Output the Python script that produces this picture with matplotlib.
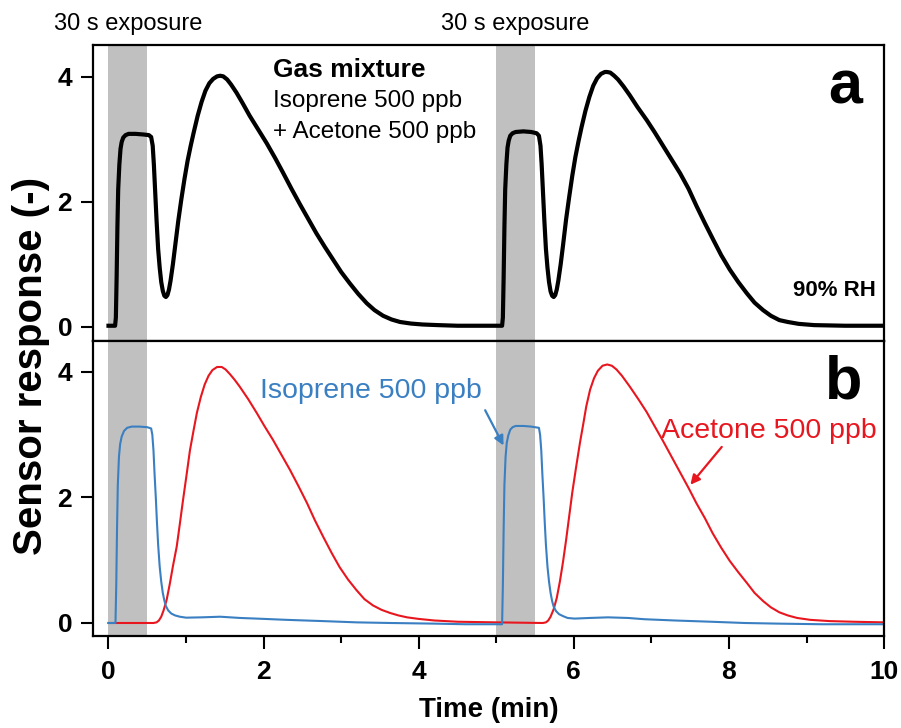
import matplotlib
matplotlib.use("Agg")
import matplotlib.pyplot as plt
import matplotlib.transforms as mtransforms

plt.rcParams['font.family'] = ['Liberation Sans', 'DejaVu Sans']

# Panel a: gas mixture response
t_mix = [0.00, 0.085, 0.095, 0.105, 0.115, 0.125, 0.14, 0.155, 0.17, 0.19, 0.22, 0.26, 0.35,
         0.45, 0.52, 0.55, 0.57, 0.585, 0.60, 0.62, 0.64, 0.66, 0.68, 0.70, 0.72, 0.74, 0.76,
         0.78, 0.80, 0.83, 0.86, 0.90, 0.94, 0.98, 1.02, 1.06, 1.10, 1.15, 1.20, 1.25, 1.30,
         1.35, 1.40, 1.44, 1.48, 1.53, 1.58, 1.65, 1.73, 1.82, 1.93, 2.04, 2.15, 2.25, 2.36,
         2.47, 2.58, 2.68, 2.79, 2.90, 3.00, 3.11, 3.22, 3.33, 3.43, 3.54, 3.65, 3.76, 3.90,
         4.05, 4.25, 4.50, 5.00, 5.075,
         5.085, 5.095, 5.105, 5.115, 5.13, 5.145, 5.16, 5.18, 5.21, 5.25, 5.35, 5.45, 5.52,
         5.55, 5.57, 5.585, 5.60, 5.62, 5.64, 5.66, 5.68, 5.70, 5.72, 5.74, 5.76, 5.78, 5.80,
         5.83, 5.86, 5.90, 5.94, 5.98, 6.02, 6.06, 6.10, 6.15, 6.20, 6.25, 6.30, 6.35, 6.40,
         6.43, 6.47, 6.52, 6.57, 6.64, 6.72, 6.82, 6.94, 7.04, 7.15, 7.26, 7.37, 7.48, 7.58,
         7.69, 7.80, 7.90, 8.01, 8.12, 8.23, 8.33, 8.44, 8.54, 8.65, 8.76, 8.90, 9.10, 9.50,
         10.0]
r_mix = [0.02, 0.02, 0.15, 0.80, 1.60, 2.20, 2.60, 2.85, 2.96, 3.03, 3.07, 3.09, 3.09,
         3.08, 3.07, 3.04, 2.90, 2.60, 2.20, 1.70, 1.25, 0.95, 0.72, 0.58, 0.50, 0.48, 0.51,
         0.60, 0.74, 1.00, 1.30, 1.70, 2.05, 2.37, 2.66, 2.90, 3.12, 3.38, 3.60, 3.78, 3.90,
         3.97, 4.01, 4.02, 4.01, 3.96, 3.88, 3.75, 3.58, 3.38, 3.16, 2.94, 2.70, 2.47, 2.21,
         1.96, 1.72, 1.50, 1.28, 1.07, 0.88, 0.70, 0.53, 0.38, 0.27, 0.18, 0.12, 0.08, 0.055,
         0.04, 0.03, 0.02, 0.02, 0.02,
         0.15, 0.80, 1.60, 2.20, 2.60, 2.87, 2.98, 3.06, 3.10, 3.12, 3.13, 3.12, 3.10,
         3.06, 2.90, 2.60, 2.20, 1.70, 1.25, 0.95, 0.72, 0.57, 0.50, 0.48, 0.51, 0.60, 0.74,
         1.00, 1.30, 1.72, 2.08, 2.42, 2.72, 2.97, 3.20, 3.46, 3.68, 3.86, 3.98, 4.05, 4.08,
         4.08, 4.07, 4.02, 3.96, 3.85, 3.71, 3.52, 3.31, 3.12, 2.90, 2.68, 2.46, 2.21, 1.94,
         1.66, 1.39, 1.15, 0.92, 0.72, 0.54, 0.39, 0.27, 0.18, 0.11, 0.08, 0.05, 0.03, 0.02,
         0.02]

# Panel b: isoprene alone
t_iso = [0.00, 0.09, 0.10, 0.11, 0.12, 0.135, 0.15, 0.17, 0.20, 0.24, 0.30, 0.40, 0.50, 0.55,
         0.565, 0.58, 0.595, 0.61, 0.625, 0.64, 0.66, 0.68, 0.70, 0.72, 0.74, 0.77, 0.81,
         0.86, 0.92, 1.00, 1.20, 1.44, 1.70, 1.91, 2.30, 2.77, 3.20, 3.63, 4.20, 4.60, 5.00,
         5.075,
         5.085, 5.095, 5.105, 5.12, 5.135, 5.155, 5.18, 5.21, 5.25, 5.35, 5.45, 5.55, 5.565,
         5.58, 5.595, 5.61, 5.625, 5.64, 5.66, 5.68, 5.70, 5.72, 5.74, 5.77, 5.81, 5.86, 5.92,
         6.01, 6.20, 6.44, 6.70, 6.91, 7.30, 7.77, 8.20, 8.63, 9.20, 9.60, 10.0]
r_iso = [0.00, 0.00, 0.60, 1.50, 2.20, 2.65, 2.85, 2.97, 3.06, 3.11, 3.13, 3.13, 3.12, 3.10,
         3.00, 2.75, 2.35, 2.00, 1.60, 1.25, 0.90, 0.66, 0.48, 0.36, 0.27, 0.20, 0.15,
         0.12, 0.10, 0.085, 0.09, 0.10, 0.08, 0.07, 0.05, 0.03, 0.01, 0.00, -0.01, -0.02, -0.02,
         -0.02,
         0.60, 1.50, 2.20, 2.65, 2.87, 2.99, 3.08, 3.12, 3.14, 3.14, 3.13, 3.11, 3.00,
         2.75, 2.35, 2.00, 1.60, 1.25, 0.90, 0.66, 0.48, 0.35, 0.26, 0.19, 0.14, 0.11, 0.08,
         0.07, 0.08, 0.09, 0.08, 0.06, 0.04, 0.02, 0.00, -0.01, -0.02, -0.02, -0.02]

# Panel b: acetone alone
t_ace = [0.00, 0.58, 0.62, 0.65, 0.68, 0.71, 0.75, 0.79, 0.83, 0.88, 0.92, 0.96, 1.01, 1.05,
         1.10, 1.14, 1.19, 1.24, 1.29, 1.34, 1.40, 1.46, 1.51, 1.57, 1.63, 1.69, 1.80, 1.91,
         2.01, 2.12, 2.23, 2.34, 2.45, 2.56, 2.66, 2.77, 2.88, 2.98, 3.09, 3.20, 3.30, 3.41,
         3.52, 3.63, 3.74, 3.85, 4.00, 4.20, 4.50, 5.00,
         5.60, 5.64, 5.67, 5.70, 5.74, 5.78, 5.82, 5.86, 5.90, 5.94, 5.98, 6.03, 6.08, 6.12,
         6.16, 6.21, 6.26, 6.31, 6.37, 6.43, 6.49, 6.55, 6.62, 6.72, 6.83, 6.94, 7.04, 7.15,
         7.26, 7.37, 7.48, 7.58, 7.69, 7.79, 7.90, 8.01, 8.12, 8.23, 8.33, 8.44, 8.54, 8.65,
         8.76, 8.88, 9.05, 9.30, 9.60, 10.0]
r_ace = [0.00, 0.00, 0.01, 0.04, 0.10, 0.20, 0.37, 0.62, 0.90, 1.22, 1.58, 1.95, 2.39, 2.75,
         3.09, 3.35, 3.60, 3.80, 3.94, 4.03, 4.08, 4.08, 4.04, 3.96, 3.87, 3.77, 3.57, 3.35,
         3.14, 2.92, 2.68, 2.44, 2.18, 1.91, 1.64, 1.37, 1.11, 0.89, 0.69, 0.52, 0.38, 0.28,
         0.21, 0.16, 0.12, 0.09, 0.065, 0.04, 0.02, 0.01,
         0.00, 0.01, 0.04, 0.10, 0.22, 0.40, 0.66, 0.97, 1.32, 1.70, 2.08, 2.49, 2.88, 3.16,
         3.45, 3.72, 3.90, 4.02, 4.10, 4.12, 4.10, 4.04, 3.94, 3.77, 3.57, 3.36, 3.14, 2.90,
         2.65, 2.40, 2.15, 1.91, 1.67, 1.43, 1.20, 0.99, 0.81, 0.64, 0.48, 0.35, 0.25, 0.17,
         0.12, 0.08, 0.05, 0.03, 0.02, 0.01]

exposures = [(0.0, 0.5), (5.0, 5.5)]
blue = '#3a7fc1'
red = '#e8161e'

fig = plt.figure(figsize=(9.01, 7.28), dpi=100)
ax_a = fig.add_axes([0.1032, 0.5316, 0.878, 0.4066])
ax_b = fig.add_axes([0.1032, 0.1264, 0.878, 0.4052], sharex=ax_a)

for ax in (ax_a, ax_b):
    for x0, x1 in exposures:
        ax.axvspan(x0, x1, color='#c0c0c0', lw=0, zorder=0)
    for s in ax.spines.values():
        s.set_linewidth(1.6)
    ax.tick_params(axis='y', which='major', direction='out', length=9, width=1.5,
                   pad=6, labelsize=19, right=False)
    ax.set_yticks([0, 2, 4])
    for lab in ax.get_yticklabels():
        lab.set_fontweight('bold')

ax_a.plot(t_mix, r_mix, color='black', lw=3, solid_joinstyle='round')
ax_b.plot(t_ace, r_ace, color=red, lw=1.5, solid_joinstyle='round')
ax_b.plot(t_iso, r_iso, color=blue, lw=1.5, solid_joinstyle='round')

ax_a.set_xlim(-0.2, 10)
ax_a.set_ylim(-0.224, 4.512)
ax_b.set_ylim(-0.207, 4.494)

ax_a.tick_params(axis='x', which='both', bottom=False, labelbottom=False)
ax_b.set_xticks([0, 2, 4, 6, 8, 10])
ax_b.set_xticks([1, 3, 5, 7, 9], minor=True)
ax_b.tick_params(axis='x', which='major', direction='out', length=9, width=1.5,
                 pad=8, labelsize=19)
ax_b.tick_params(axis='x', which='minor', direction='out', length=5, width=1.5)
for lab in ax_b.get_xticklabels():
    lab.set_fontweight('bold')

ax_b.set_xlabel('Time (min)', fontsize=20, fontweight='bold', labelpad=10)
fig.text(0.034, 0.497, 'Sensor response (-)', rotation=90, ha='center', va='center',
         fontsize=29, fontweight='bold')

# exposure labels above the top panel
trans = mtransforms.blended_transform_factory(ax_a.transData, ax_a.transAxes)
for x0, x1 in exposures:
    ax_a.text((x0 + x1) / 2, 1.072, '30 s exposure', transform=trans, ha='center',
              va='center', fontsize=17, clip_on=False)

# panel a annotations
ax_a.text(2.12, 4.11, 'Gas mixture', fontsize=19, fontweight='bold', va='center')
ax_a.text(2.12, 3.62, 'Isoprene 500 ppb', fontsize=17.5, va='center')
ax_a.text(2.12, 3.12, '+ Acetone 500 ppb', fontsize=17.5, va='center')
ax_a.text(0.972, 0.855, 'a', transform=ax_a.transAxes, ha='right', va='center',
          fontsize=44, fontweight='bold')
ax_a.text(0.99, 0.17, '90% RH', transform=ax_a.transAxes, ha='right', va='center',
          fontsize=16, fontweight='bold')

# panel b annotations
ax_b.text(0.972, 0.858, 'b', transform=ax_b.transAxes, ha='right', va='center',
          fontsize=44, fontweight='bold')
ax_b.text(1.95, 3.70, 'Isoprene 500 ppb', color=blue, fontsize=20.5, va='center')
ax_b.annotate('', xy=(5.11, 2.79), xytext=(4.84, 3.43),
              arrowprops=dict(arrowstyle='-|>', color=blue, lw=1.6, mutation_scale=14))
ax_b.text(7.13, 3.06, 'Acetone 500 ppb', color=red, fontsize=20.5, va='center')
ax_b.annotate('', xy=(7.48, 2.17), xytext=(7.93, 2.84),
              arrowprops=dict(arrowstyle='-|>', color=red, lw=1.6, mutation_scale=14))

fig.savefig('out.png', dpi=100)
